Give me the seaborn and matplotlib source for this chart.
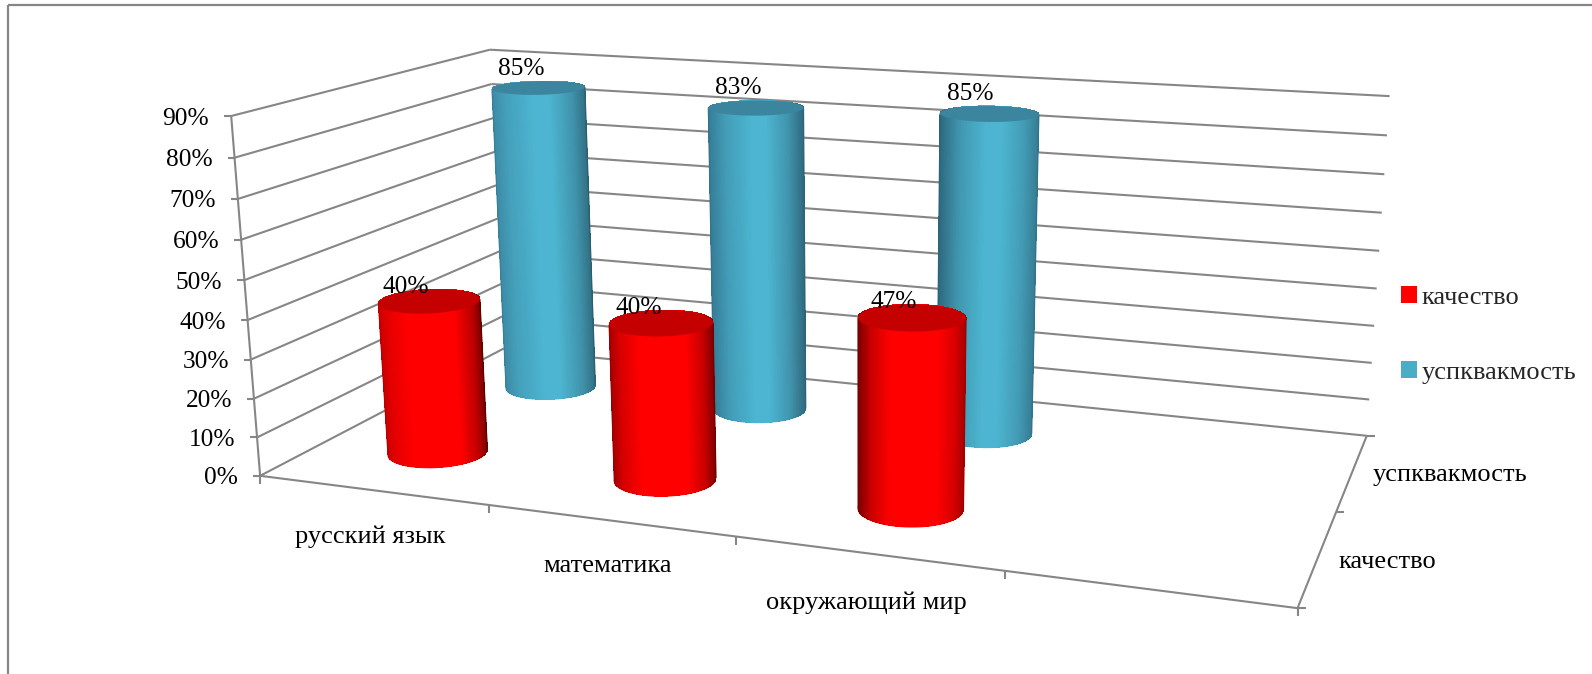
import numpy as np
import seaborn as sns
import matplotlib
matplotlib.use("Agg")
import matplotlib.pyplot as plt
from matplotlib.collections import PolyCollection, LineCollection
from matplotlib.patches import Patch

# chart data
subjects = ["русский язык", "математика", "окружающий мир"]
series_names = ["качество", "успквакмость"]
kachestvo = [40, 40, 47]
uspevaemost = [85, 83, 85]
value_ticks = [0, 10, 20, 30, 40, 50, 60, 70, 80, 90]

sns.set_theme(style="white")
plt.rcParams["font.family"] = ["Liberation Serif", "DejaVu Sans"]
FS = 18.3
FS_TXT = 19
GRID = "#868686"
palette = sns.color_palette(["#FF0000", "#4BACC6"])

fig = plt.figure(figsize=(15.92, 6.74), dpi=100)
ax = fig.add_axes([0, 0, 1, 1])
ax.set_xlim(0, 1592)
ax.set_ylim(674, 0)
ax.axis("off")

# view of the box: category axis 0-1, series axis 0-1, value 0-90, fitted to its corners
box = [(0, 0, 0), (0, 0, 90), (0, 1, 90), (1, 1, 90), (1, 1, 0), (1, 0, 0), (0, 1, 0)]
seen = [(258, 475), (233, 117), (488, 49), (1390, 96), (1366, 436), (1298, 608), (506, 349)]
rows, rhs = [], []
for (x, y, z), (u, v) in zip(box, seen):
    rows.append([x, y, z, 1, 0, 0, 0, 0, -u * x, -u * y, -u * z])
    rows.append([0, 0, 0, 0, x, y, z, 1, -v * x, -v * y, -v * z])
    rhs += [u, v]
sol = np.linalg.lstsq(np.array(rows, float), np.array(rhs, float), rcond=None)[0]
P = np.append(sol, 1).reshape(3, 4)


def project(x, y, z):
    x, y, z = np.broadcast_arrays(x, y, z)
    q = P @ np.vstack([x.ravel(), y.ravel(), z.ravel(), np.ones(x.size)])
    return q[0] / q[2], q[1] / q[2]


def seg(a, b, lw=1.5):
    ax.plot(*zip(a, b), color=GRID, lw=lw, solid_capstyle="butt", zorder=1)


def pt(x, y, z):
    u, v = project(x, y, z)
    return float(u[0]), float(v[0])


# outer frame
for a, b in [((8, 5), (1592, 5)), ((8, 5), (8, 674))]:
    seg(a, b, 1.6)

# walls
for val in value_ticks:
    seg(pt(0, 0, val), pt(0, 1, val))
    seg(pt(0, 1, val), pt(1, 1, val))
    u, v = pt(0, 0, val)
    seg((u - 7, v), (u, v))
    ax.text(u - 22, v + 2.5, f"{val}%", ha="right", va="center", fontsize=FS, color="black")
seg(pt(0, 0, 0), pt(0, 0, 90))

# floor edges and ticks
seg(pt(0, 0, 0), pt(1, 0, 0))
seg(pt(1, 0, 0), pt(1, 1, 0))
for i in range(5):
    u, v = pt(i / 4, 0, 0)
    seg((u, v), (u, v + 8))
for j in range(3):
    u, v = pt(1, j / 2, 0)
    seg((u, v), (u + 8, v))

cat_labels = [(370, 537), (608, 566), (866, 603)]
for name, (u, v) in zip(subjects, cat_labels):
    ax.text(u, v, name, ha="center", va="center", fontsize=FS_TXT, color="black")
ax.text(1338, 562, series_names[0], ha="left", va="center", fontsize=FS_TXT, color="black")
ax.text(1373, 475, series_names[1], ha="left", va="center", fontsize=FS_TXT, color="black")

RX, RY = 0.049, 0.10
theta = np.linspace(0, 2 * np.pi, 361)


def mix(a, b, t):
    return tuple(p * (1 - t) + q * t for p, q in zip(a, b))


def cylinder(i, j, value, col, top_col, left, right, z, stops):
    xc, yc = (i + 0.5) / 4, (j + 0.5) / 2
    xs = xc + RX * np.cos(theta)
    ys = yc + RY * np.sin(theta)
    bu, bv = project(xs, ys, 0)
    tu, tv = project(xs, ys, value)
    lo, hi = min(bu.min(), tu.min()), max(bu.max(), tu.max())
    ramp = np.array([left, mix(left, col, 0.6), col, col, mix(right, col, 0.6), right])
    shade = lambda f: [np.interp(f, stops, ramp[:, k]) for k in range(3)]
    quads, colors, depth = [], [], []
    for k in range(len(theta) - 1):
        quads.append([(bu[k], bv[k]), (bu[k + 1], bv[k + 1]), (tu[k + 1], tv[k + 1]), (tu[k], tv[k])])
        colors.append(shade((0.5 * (bu[k] + tu[k]) - lo) / (hi - lo)))
        depth.append(ys[k])
    order = np.argsort(depth)[::-1]
    ax.add_collection(PolyCollection([quads[o] for o in order], facecolors=[colors[o] for o in order],
                                     edgecolors="none", linewidths=0, antialiaseds=False, zorder=z))
    # smooth outline: bottom arc and both sides
    arc = [k for k in range(len(theta) - 1) if ys[k] <= yc + 0.01]
    lines = [[quads[k][0], quads[k][1]] for k in arc]
    line_cols = [colors[k] for k in arc]
    kl, kr = np.argmin(bu), np.argmax(bu)
    tl, tr = np.argmin(tu), np.argmax(tu)
    lines += [[(bu[kl], bv[kl]), (tu[tl], tv[tl])], [(bu[kr], bv[kr]), (tu[tr], tv[tr])]]
    line_cols += [tuple(left), tuple(right)]
    ax.add_collection(LineCollection(lines, colors=line_cols, linewidths=0.9, zorder=z + 0.2))
    ax.fill(tu, tv, color=top_col, lw=0, zorder=z + 0.5)
    return pt(xc, yc, value), tv.min()


RED = (1.0, 0.0, 0.0)
BLUE = (0.30, 0.71, 0.82)
red_top = (0.77, 0.0, 0.0)
blue_top = (0.23, 0.52, 0.62)
red_edges = [((0.72, 0, 0), (0.36, 0, 0)), ((0.6, 0, 0), (0.45, 0, 0)), ((0.47, 0, 0), (0.62, 0, 0))]
blue_edges = [((0.22, 0.5, 0.6), (0.17, 0.37, 0.44)), ((0.2, 0.46, 0.56), (0.18, 0.39, 0.47)),
              ((0.17, 0.39, 0.47), (0.2, 0.45, 0.54))]
red_stops = [0, 0.12, 0.3, 0.72, 0.88, 1]
blue_stops = [0, 0.2, 0.45, 0.6, 0.82, 1]
blue_shift = [-17, -18, -19]
red_shift = [-24, -22, -18]

tops = []
for i, val in enumerate(uspevaemost):
    c, top = cylinder(i, 1, val, BLUE, blue_top, *blue_edges[i], 3 + i, blue_stops)
    tops.append((c[0] + blue_shift[i], top - 12, val))
for i, val in enumerate(kachestvo):
    c, top = cylinder(i, 0, val, RED, red_top, *red_edges[i], 8 + i, red_stops)
    tops.append((c[0] + red_shift[i], top - 2.5, val))
for u, v, val in tops:
    ax.text(u, v, f"{val}%", ha="center", va="center", fontsize=FS, color="black", zorder=20)

handles = [Patch(facecolor=palette[0], edgecolor="none"), Patch(facecolor=palette[1], edgecolor="none")]
ax.legend(handles, series_names, loc="center left", bbox_to_anchor=(1401, 335), bbox_transform=ax.transData,
          frameon=False, fontsize=FS_TXT, handlelength=0.6, handleheight=0.6, handletextpad=0.18,
          labelspacing=1.99, borderpad=0, borderaxespad=0)

fig.savefig("out.png", dpi=100)
